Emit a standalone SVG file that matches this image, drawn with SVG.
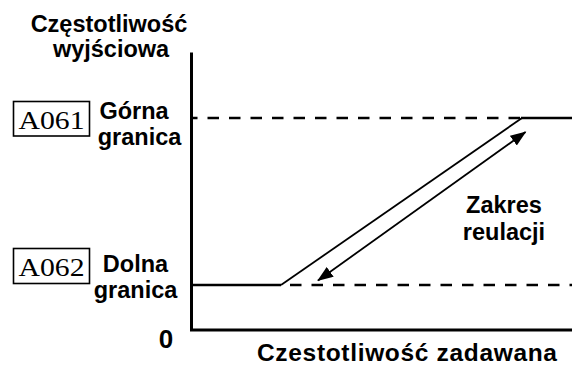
<svg xmlns="http://www.w3.org/2000/svg" width="572" height="365" viewBox="0 0 572 365">
<style>
.lbl{font-family:"Liberation Sans",Arial,sans-serif;font-weight:bold;font-size:23.5px;fill:#000;text-anchor:middle}
.code{font-family:"Liberation Serif","Times New Roman",serif;font-size:26px;fill:#000;text-anchor:middle}
.box{fill:#fff;stroke:#000;stroke-width:1.6}
.axis{stroke:#000;stroke-width:3;fill:none}
.dash{stroke:#000;stroke-width:2.5;fill:none;stroke-dasharray:11.5 10}
.solid{stroke:#000;stroke-width:2.5;fill:none}
.diag{stroke:#000;stroke-width:1.8;fill:none}
</style>
<defs>
<marker id="ah" markerUnits="userSpaceOnUse" markerWidth="18" markerHeight="14" refX="15" refY="6" orient="auto-start-reverse">
<path d="M0,0 L16,6 L0,12 z" fill="#000"/>
</marker>
</defs>
<rect width="572" height="365" fill="#fff"/>
<g id="axes">
<path class="axis" d="M191.5,52.5 V330 H572"/>
</g>
<g id="connectors">
<line class="dash" x1="193" y1="118" x2="521" y2="118" stroke-dashoffset="7"/>
<line class="solid" x1="521" y1="118" x2="572" y2="118"/>
<line class="solid" x1="193" y1="285" x2="281" y2="285"/>
<line class="dash" x1="290" y1="285" x2="572" y2="285"/>
<line class="diag" x1="281" y1="285" x2="522" y2="118"/>
<line class="diag" x1="318" y1="280.5" x2="525.5" y2="132" marker-start="url(#ah)" marker-end="url(#ah)"/>
</g>
<g id="title">
<text class="lbl" x="109" y="32">Częstotliwość</text>
<text class="lbl" x="111" y="57">wyjściowa</text>
</g>
<g id="A061">
<rect class="box" x="13.5" y="101.5" width="76" height="34.5"/>
<text class="code" x="51.5" y="129" textLength="66" lengthAdjust="spacingAndGlyphs">A061</text>
</g>
<g id="gorna">
<text class="lbl" x="134" y="119">Górna</text>
<text class="lbl" x="139.5" y="145">granica</text>
</g>
<g id="A062">
<rect class="box" x="13.5" y="248.5" width="76" height="35"/>
<text class="code" x="51.5" y="276" textLength="66" lengthAdjust="spacingAndGlyphs">A062</text>
</g>
<g id="dolna">
<text class="lbl" x="135.5" y="272">Dolna</text>
<text class="lbl" x="135.5" y="298">granica</text>
</g>
<g id="zakres">
<text class="lbl" x="504" y="213">Zakres</text>
<text class="lbl" x="504" y="240">reulacji</text>
</g>
<g id="zero">
<text class="lbl" x="166" y="348" style="font-size:26px">0</text>
</g>
<g id="xlabel">
<text class="lbl" x="407" y="361" style="font-size:24.5px" textLength="300">Czestotliwość zadawana</text>
</g>
</svg>
